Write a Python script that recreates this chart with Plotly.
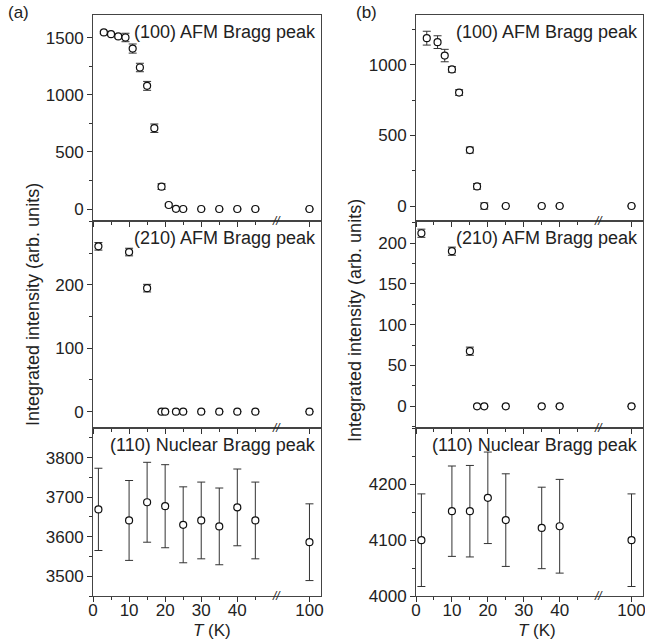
import plotly.graph_objects as go
from plotly.subplots import make_subplots

# temperatures (K) and integrated intensities
# column (a)
T_a_100 = [3, 5, 7, 9, 11, 13, 15, 17, 19, 21, 23, 25, 30, 35, 40, 45, 100]
I_a_100 = [1547, 1532, 1512, 1503, 1406, 1240, 1079, 708, 196, 35, 2, 0, 0, 0, 0, 0, 0]
E_a_100 = [10, 10, 12, 37, 40, 37, 39, 37, 25, 10, 5, 3, 3, 3, 3, 3, 3]

T_a_210 = [1.5, 10, 15, 19, 20, 23, 25, 30, 35, 40, 45, 100]
I_a_210 = [261, 252, 195, 0, 0, 0, 0, 0, 0, 0, 0, 0]
E_a_210 = [6, 6, 6, 0, 0, 0, 0, 0, 0, 0, 0, 0]

T_a_110 = [1.5, 10, 15, 20, 25, 30, 35, 40, 45, 100]
I_a_110 = [3669, 3641, 3687, 3677, 3630, 3641, 3626, 3674, 3641, 3586]
E_a_110 = [104, 101, 101, 105, 96, 97, 97, 97, 97, 97]

# column (b)
T_b_100 = [3, 6, 8, 10, 12, 15, 17, 19, 25, 35, 40, 100]
I_b_100 = [1188, 1160, 1065, 967, 803, 396, 139, 0, 0, 0, 0, 0]
E_b_100 = [49, 45, 44, 20, 20, 21, 20, 22, 0, 0, 0, 0]

T_b_210 = [1.5, 10, 15, 17, 19, 25, 35, 40, 100]
I_b_210 = [212, 190, 67.5, 0, 0, 0, 0, 0, 0]
E_b_210 = [5, 5, 5, 0, 0, 0, 0, 0, 0]

T_b_110 = [1.5, 10, 15, 20, 25, 35, 40, 100]
I_b_110 = [4100, 4152, 4152, 4176, 4136, 4122, 4125, 4100]
E_b_110 = [83, 81, 82, 82, 83, 73, 84, 83]

# tick values
x_tick_vals = [0, 10, 20, 30, 40, 100]
x_tick_labels = ["0", "10", "20", "30", "40", "100"]
x_minor_vals = [5, 15, 25, 35, 45]
y_ticks_a_100 = [0, 500, 1000, 1500]
y_ticks_a_210 = [0, 100, 200]
y_ticks_a_110 = [3500, 3600, 3700, 3800]
y_ticks_b_100 = [0, 500, 1000]
y_ticks_b_210 = [0, 50, 100, 150, 200]
y_ticks_b_110 = [4000, 4100, 4200]
panel_labels = ["(100) AFM Bragg peak", "(210) AFM Bragg peak", "(110) Nuclear Bragg peak"]

W, H = 645, 641
FONT = "Liberation Sans, Arial, sans-serif"
INK = "#222"


def px(x):
    return x / W


def py(y):
    return 1 - y / H


def brk(t):
    # broken axis: linear up to 50 K, 100 K drawn at 60
    return [v if v <= 50 else v - 40 for v in t]


fig = make_subplots(rows=3, cols=2)

panels = [
    (1, 1, T_a_100, I_a_100, E_a_100, [-105, 1700], y_ticks_a_100, 250),
    (2, 1, T_a_210, I_a_210, E_a_210, [-25, 301], y_ticks_a_210, 50),
    (3, 1, T_a_110, I_a_110, E_a_110, [3450, 3876], y_ticks_a_110, 50),
    (1, 2, T_b_100, I_b_100, E_b_100, [-106, 1352], y_ticks_b_100, 250),
    (2, 2, T_b_210, I_b_210, E_b_210, [-26, 227], y_ticks_b_210, 25),
    (3, 2, T_b_110, I_b_110, E_b_110, [4000, 4302], y_ticks_b_110, 50),
]

xdom = {1: [px(93), px(321)], 2: [px(416), px(643)]}
ypix = {1: (15, 221), 2: (221, 427.5), 3: (427.5, 596)}

for row, col, t, v, e, yr, yt, mdt in panels:
    fig.add_trace(
        go.Scatter(x=brk(t), y=v, mode="markers",
                   error_y=dict(type="data", array=e, color="#333", thickness=1, width=4),
                   marker=dict(symbol="circle", size=7, color="white",
                               line=dict(color="#111", width=1.2)),
                   showlegend=False, cliponaxis=False),
        row=row, col=col)
    top, bot = ypix[row]
    fig.update_yaxes(domain=[py(bot), py(top)], range=yr,
                     tickmode="array", tickvals=yt, automargin=False,
                     ticks="outside", ticklen=5, tickcolor="#333",
                     minor=dict(dtick=mdt, ticks="outside", ticklen=3, tickcolor="#333"),
                     showline=True, linecolor="#444", linewidth=1, mirror=True,
                     showgrid=False, zeroline=False,
                     tickfont=dict(family=FONT, size=17, color=INK),
                     row=row, col=col)
    fig.update_xaxes(domain=xdom[col], range=[0, 63.2], automargin=False,
                     tickmode="array", tickvals=brk(x_tick_vals), ticktext=x_tick_labels,
                     ticks="outside", ticklen=5, tickcolor="#333",
                     minor=dict(tickmode="array", tickvals=x_minor_vals,
                                ticks="outside", ticklen=3, tickcolor="#333"),
                     showline=True, linecolor="#444", linewidth=1, mirror=True,
                     showgrid=False, zeroline=False, showticklabels=(row == 3),
                     ticklabelstandoff=-6, ticklabeloverflow="allow",
                     tickfont=dict(family=FONT, size=17, color=INK),
                     row=row, col=col)

# axis-break marks and panel captions
ann = []
for row, col in [(1, 1), (2, 1), (3, 1), (1, 2), (2, 2), (3, 2)]:
    n = (row - 1) * 2 + col
    xs = "x" if n == 1 else "x%d" % n
    ys = "y" if n == 1 else "y%d" % n
    ann.append(dict(x=50.8, y=0, xref=xs, yref=ys + " domain", text="<i>//</i>", showarrow=False,
                    font=dict(family=FONT, size=12, color="#222"), xanchor="center", yanchor="middle"))
    ann.append(dict(x=0.985, y=1 - 17 / ((ypix[row][1] - ypix[row][0])), xref=xs + " domain",
                    yref=ys + " domain", text=panel_labels[row - 1], showarrow=False,
                    xanchor="right", yanchor="middle",
                    font=dict(family=FONT, size=18, color=INK)))

for cx, cy in [(212, 630), (537, 630)]:
    ann.append(dict(x=px(cx), y=py(cy), xref="paper", yref="paper",
                    text="<i>T</i> (K)", showarrow=False, xanchor="center", yanchor="middle",
                    font=dict(family=FONT, size=17, color=INK)))

for cx, cy in [(33, 305), (355, 321)]:
    ann.append(dict(x=px(cx), y=py(cy), xref="paper", yref="paper",
                    text="Integrated intensity (arb. units)", textangle=-90, showarrow=False,
                    xanchor="center", yanchor="middle",
                    font=dict(family=FONT, size=18, color=INK)))

for cx, lab in [(18, "(a)"), (366, "(b)")]:
    ann.append(dict(x=px(cx), y=py(13), xref="paper", yref="paper", text=lab,
                    showarrow=False, xanchor="center", yanchor="middle",
                    font=dict(family=FONT, size=17, color=INK)))

fig.update_layout(width=W, height=H, margin=dict(l=0, r=0, t=0, b=0),
                  plot_bgcolor="white", paper_bgcolor="white", annotations=ann)

# drop the default page margin so the figure fills the window exactly
fig.write_html("out.html", config={"displayModeBar": False},
               post_script="document.body.style.margin='0';"
               "document.documentElement.style.overflow='hidden';")
